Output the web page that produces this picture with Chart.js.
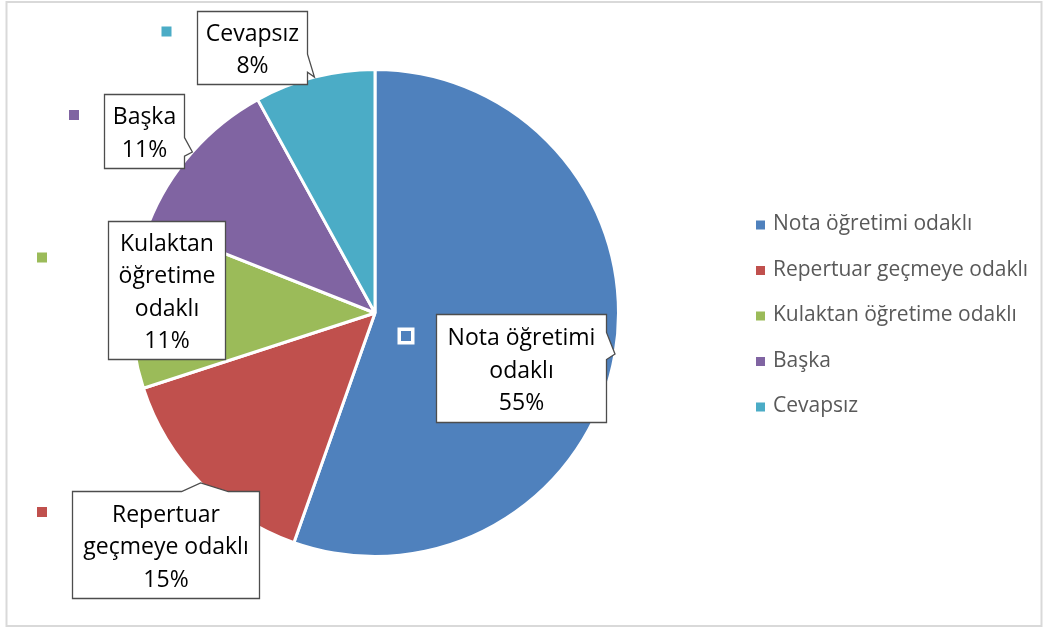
<!DOCTYPE html>
<html>
<head>
<meta charset="utf-8">
<script src="https://cdn.jsdelivr.net/npm/chart.js@4.4.0/dist/chart.umd.min.js"></script>
<style>
  html, body { margin: 0; padding: 0; background: #fff; }
  #wrap { position: relative; width: 1047px; height: 630px; }
</style>
</head>
<body>
<div id="wrap"><canvas id="pieChart"></canvas></div>
<script>
// --- DATA ---
const categories = ['Nota öğretimi odaklı', 'Repertuar geçmeye odaklı', 'Kulaktan öğretime odaklı', 'Başka', 'Cevapsız'];
const percents = [55.4, 14.6, 11, 11, 8]; // slice sizes; labels show them rounded
const sliceColors = ['#4F81BD', '#C0504D', '#9BBB59', '#8064A2', '#4BACC6'];

// callout boxes were dragged by hand in the original, so keep them relative to the pie centre
const calloutBoxes = [
    { x: 61,   y: 1,    w: 170, h: 108, keyX: -30.5, keyY: 21.5 },
    { x: -303, y: 178,  w: 187, h: 107, keyX: -30.5, keyY: 20.5 },
    { x: -267, y: -92,  w: 117, h: 138, keyX: -66.5, keyY: 36 },
    { x: -271, y: -219, w: 80,  h: 74,  keyX: -30.5, keyY: 20.5 },
    { x: -178, y: -302, w: 110, h: 73,  keyX: -31,   keyY: 20 }
];

const LABEL_FONT = '23px "Open Sans"';
const LEGEND_FONT = '21px "Open Sans"';

// --- HELPERS ---
function wrapText(ctx, text, maxW) {
    const words = text.split(' ');
    const lines = [];
    let cur = '';
    words.forEach(w => {
        const test = cur ? cur + ' ' + w : w;
        if (cur && ctx.measureText(test).width > maxW) { lines.push(cur); cur = w; }
        else cur = test;
    });
    if (cur) lines.push(cur);
    return lines;
}

// Office "wedgeRectCallout": tail base sits at 2/12..5/12 or 7/12..10/12 of the side
function calloutPath(ctx, l, t, w, h, tip) {
    const r = l + w, b = t + h;
    const cx = l + w / 2, cy = t + h / 2;
    ctx.beginPath();
    if (tip.x >= l && tip.x <= r && tip.y >= t && tip.y <= b) { ctx.rect(l, t, w, h); return; }
    const dx = tip.x - cx, dy = tip.y - cy;
    const horiz = Math.abs(dx) / w > Math.abs(dy) / h;
    const y1 = t + h * (dy > 0 ? 7 : 2) / 12, y2 = t + h * (dy > 0 ? 10 : 5) / 12;
    const x1 = l + w * (dx > 0 ? 7 : 2) / 12, x2 = l + w * (dx > 0 ? 10 : 5) / 12;
    ctx.moveTo(l, t);
    if (!horiz && dy < 0) { ctx.lineTo(x1, t); ctx.lineTo(tip.x, tip.y); ctx.lineTo(x2, t); }
    ctx.lineTo(r, t);
    if (horiz && dx > 0) { ctx.lineTo(r, y1); ctx.lineTo(tip.x, tip.y); ctx.lineTo(r, y2); }
    ctx.lineTo(r, b);
    if (!horiz && dy > 0) { ctx.lineTo(x2, b); ctx.lineTo(tip.x, tip.y); ctx.lineTo(x1, b); }
    ctx.lineTo(l, b);
    if (horiz && dx < 0) { ctx.lineTo(l, y2); ctx.lineTo(tip.x, tip.y); ctx.lineTo(l, y1); }
    ctx.closePath();
}

// --- PLUGINS ---
const framePlugin = {
    id: 'frame',
    beforeDraw(chart) {
        const ctx = chart.ctx;
        ctx.save();
        ctx.fillStyle = '#fff';
        ctx.fillRect(0, 0, chart.width, chart.height);
        ctx.strokeStyle = '#d9d9d9';
        ctx.lineWidth = 2;
        ctx.strokeRect(6.5, 2, 1035, 624);
        ctx.restore();
    }
};

const calloutPlugin = {
    id: 'callouts',
    afterDatasetsDraw(chart) {
        const ctx = chart.ctx;
        const arcs = chart.getDatasetMeta(0).data;
        const ds = chart.data.datasets[0];
        ctx.save();
        arcs.forEach((arc, i) => {
            const p = arc.getProps(['x', 'y', 'startAngle', 'endAngle', 'outerRadius'], true);
            const mid = (p.startAngle + p.endAngle) / 2;
            const tip = { x: p.x + Math.cos(mid) * p.outerRadius, y: p.y + Math.sin(mid) * p.outerRadius };
            const bx = calloutBoxes[i];
            const l = Math.round(p.x + bx.x) + 0.5, t = Math.round(p.y + bx.y) + 0.5;

            // box
            calloutPath(ctx, l, t, bx.w, bx.h, tip);
            ctx.fillStyle = '#fff';
            ctx.fill();
            ctx.strokeStyle = '#4d4d4d';
            ctx.lineWidth = 1.3;
            ctx.stroke();

            // legend key beside the label
            const kx = l + bx.keyX, ky = t + bx.keyY;
            ctx.fillStyle = '#fff';
            ctx.fillRect(kx - 8.5, ky - 8.5, 17, 17);
            ctx.fillStyle = ds.backgroundColor[i];
            ctx.fillRect(kx - 5, ky - 5, 10, 10);

            // text
            ctx.font = LABEL_FONT;
            ctx.fillStyle = '#000';
            ctx.textAlign = 'center';
            ctx.textBaseline = 'alphabetic';
            const lines = wrapText(ctx, chart.data.labels[i], bx.w - 4);
            lines.push(Math.round(ds.data[i]) + '%');
            const lh = 32.5;
            const cy = t + bx.h / 2;
            lines.forEach((ln, j) => {
                const lineMid = cy + (j - (lines.length - 1) / 2) * lh;
                ctx.fillText(ln, l + bx.w / 2, lineMid + 9);
            });
        });
        ctx.restore();
    }
};

const sideLegendPlugin = {
    id: 'sideLegend',
    afterDraw(chart) {
        const ctx = chart.ctx;
        const ds = chart.data.datasets[0];
        ctx.save();
        ctx.font = LEGEND_FONT;
        ctx.textAlign = 'left';
        ctx.textBaseline = 'alphabetic';
        chart.data.labels.forEach((lab, i) => {
            const base = 230 + i * 45.5;
            ctx.fillStyle = ds.backgroundColor[i];
            ctx.fillRect(756, base - 9.5, 9, 9);
            ctx.fillStyle = '#595959';
            ctx.fillText(lab, 773, base);
        });
        ctx.restore();
    }
};

// --- CHART ---
const ctx = document.getElementById('pieChart').getContext('2d');
const myChart = new Chart(ctx, {
    type: 'pie',
    data: {
        labels: categories,
        datasets: [{
            data: percents,
            backgroundColor: sliceColors,
            borderColor: '#fff',
            borderWidth: 3
        }]
    },
    options: {
        responsive: true,
        maintainAspectRatio: false,
        animation: false,
        layout: { padding: { left: 130, right: 427, top: 68, bottom: 72 } },
        plugins: {
            legend: { display: false },
            tooltip: { enabled: false }
        }
    },
    plugins: [framePlugin, calloutPlugin, sideLegendPlugin]
});
</script>
</body>
</html>
